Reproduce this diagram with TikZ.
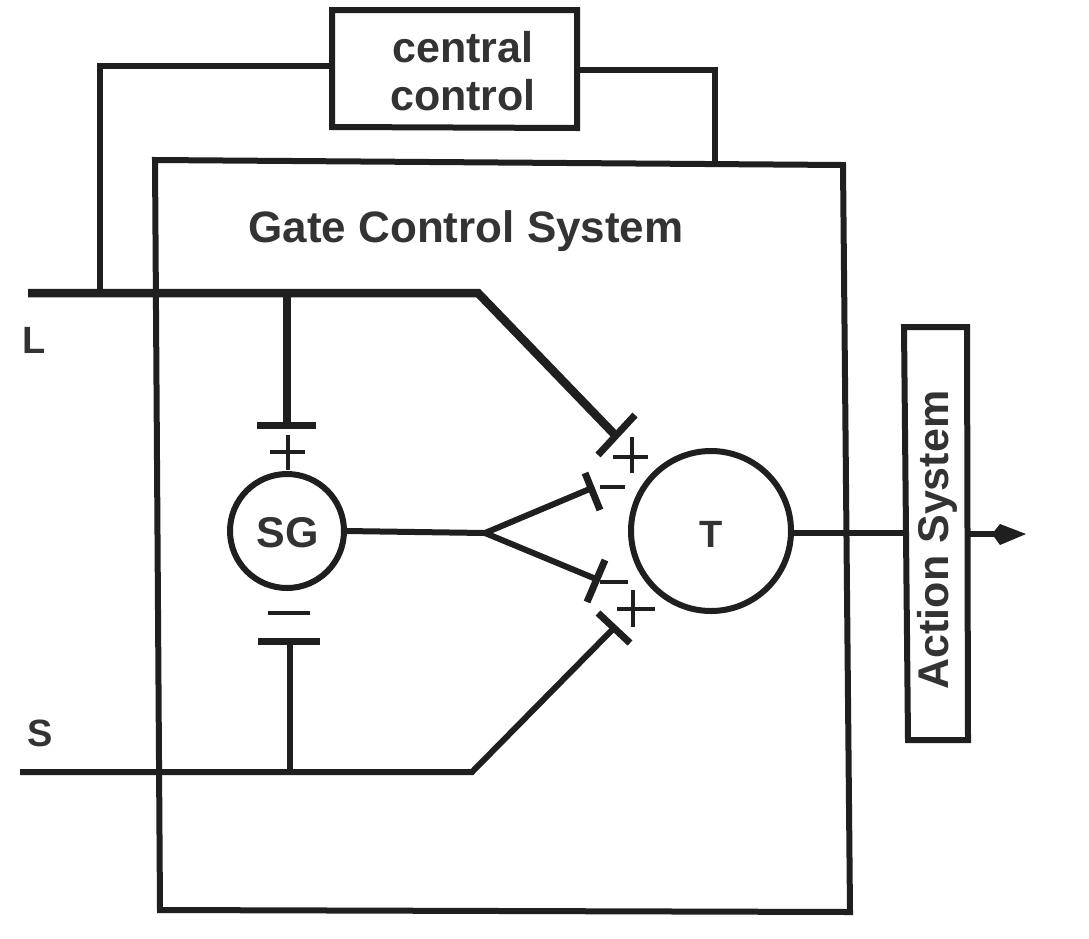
\documentclass[tikz,border=0pt]{standalone}
\usepackage{fontspec}
\setmainfont{Liberation Sans}
\definecolor{ink}{gray}{0.12}
\definecolor{txt}{gray}{0.2}
\tikzset{
  x=1pt,y=-1pt,
  line/.style={draw=ink,line width=6pt,line join=miter},
  heavy/.style={draw=ink,line width=8.5pt},
  thin sign/.style={draw=ink,line width=4pt},
  bar/.style={draw=ink,line width=7pt},
  lab/.style={text=txt,font=\fontsize{43}{50}\selectfont\bfseries,inner sep=0pt},
  wide lab/.style={text=txt,font=\fontsize{44}{50}\selectfont\bfseries,inner sep=0pt},
  small lab/.style={text=txt,font=\fontsize{38}{44}\selectfont\bfseries,inner sep=0pt},
  circ/.style={circle,draw=ink,line width=6pt,inner sep=0pt,fill=none}
}
\begin{document}
\begin{tikzpicture}
\useasboundingbox[fill=white] (0,0) rectangle (1089,938);
% boxes
\draw[line] (155,160) coordinate (g1) -- (843,165) coordinate (g2) -- (850,912) coordinate (g3) -- (160,910) coordinate (g4) -- cycle;
\draw[line] (332,10) coordinate (c1) -- (577,10) coordinate (c2) -- (577,128) coordinate (c3) -- (332,127) coordinate (c4) -- cycle;
\draw[line] (904,327) coordinate (a1) -- (967,327) coordinate (a2) -- (968,740) coordinate (a3) -- (908,740) coordinate (a4) -- cycle;
\node[lab] (cc1) at (463,47) {central};
\node[lab] (cc2) at (463,95) {control};
\node[wide lab] (gcs) at (466,231) {Gate Control System};
\node[lab,rotate=90] (as) at (937,540) {Action System};
\node[small lab] (ll) at (34,340) {L};
\node[small lab] (ls) at (40,733) {S};
\node[circ,minimum size=114pt] (sg) at (287,531) {};
\node[lab] (sgl) at (288,533) {SG};
\node[circ,minimum size=160pt] (t) at (711,531) {};
\node[small lab] (tl) at (711,534) {T};
% coordinates
\coordinate (lstart) at (28,293);
\coordinate (lbend) at (478,293);
\coordinate (ljoin) at (100,293);
\coordinate (lstem) at (287,293);
\coordinate (lend) at (616,436);
\coordinate (sstart) at (20,772);
\coordinate (sbend) at (472,772);
\coordinate (sstem) at (290,772);
\coordinate (send) at (614,628);
\coordinate (fork) at (485,533);
\coordinate (fu) at (592,488);
\coordinate (fd) at (596,579);
\coordinate (cl) at (100,66);
\coordinate (cr) at (715,70);
\coordinate (crd) at (715,162);
\coordinate (lcc) at (332,66);
\coordinate (rcc) at (577,70);
\coordinate (tip) at (1026,534);
\coordinate (tout) at (793,533);
\coordinate (aleft) at (905,533);
\coordinate (aright) at (968,534);
\coordinate (ahead) at (1000,534);
\coordinate (sgout) at (346,531);
% connectors
\draw[line] (ljoin) -- (cl) -- (lcc);
\draw[line] (rcc) -- (cr) -- (crd);
\draw[heavy] (lstart) -- (lbend) -- (lend);
\draw[line] (sstart) -- (sbend) -- (send);
\draw[heavy] (lstem) -- (287,425);
\draw[line] (sstem) -- (290,641);
\draw[line] (sgout) -- (fork);
\draw[line] (fork) -- (fu);
\draw[line] (fork) -- (fd);
\draw[line] (tout) -- (aleft);
\draw[line] (aright) -- (ahead);
\fill[ink] (tip) -- (1000,524) -- (992,534) -- (1000,545) -- cycle;
% synapse bars
\draw[bar] (598,455) -- (635,415);
\draw[bar] (585,473) -- (600,510);
\draw[bar] (605,560) -- (587,602);
\draw[bar] (598,613) -- (630,643);
\draw[bar] (257,425) -- (316,425);
\draw[bar] (258,641) -- (320,641);
% signs
\draw[thin sign] (613,457) -- (648,457);
\draw[thin sign] (632,437) -- (632,473);
\draw[thin sign] (600,487) -- (625,487);
\draw[thin sign] (600,582) -- (628,582);
\draw[thin sign] (617,609) -- (655,609);
\draw[thin sign] (633,590) -- (633,627);
\draw[thin sign] (270,452) -- (305,452);
\draw[thin sign] (288,435) -- (288,470);
\draw[thin sign] (268,613) -- (310,613);
\end{tikzpicture}
\end{document}
